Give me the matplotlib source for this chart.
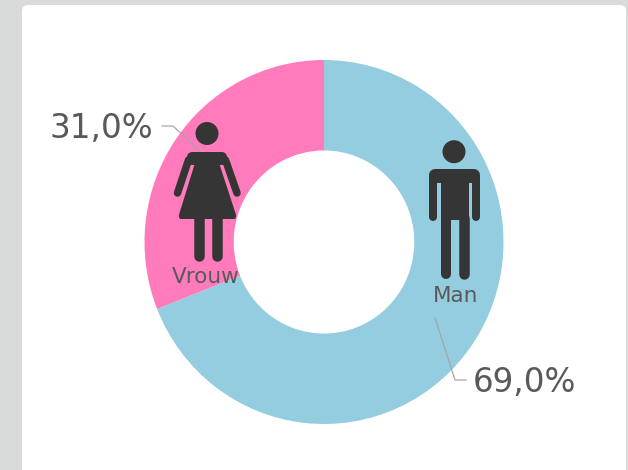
import matplotlib
matplotlib.use("Agg")
import matplotlib.pyplot as plt
from matplotlib.patches import Circle, FancyBboxPatch, Polygon

categories = ["Man", "Vrouw"]
shares = [69.0, 31.0]
share_labels = ["69,0%", "31,0%"]
colors = ["#94CDDF", "#FF7BBB"]

W, H = 628, 470
DARK = "#353535"
TEXT = "#595959"
LEAD = "#A6A6A6"
plt.rcParams["font.family"] = ["DejaVu Sans"]

fig = plt.figure(figsize=(W / 100, H / 100), dpi=100, facecolor="#D9DBDA")

# white card
bg = fig.add_axes([0, 0, 1, 1])
bg.set_xlim(0, W); bg.set_ylim(H, 0); bg.axis("off")
bg.add_patch(FancyBboxPatch((27, 10), 594, 500, boxstyle="round,pad=5,rounding_size=6",
                            fc="white", ec="white", lw=0))

# donut
L, R, T, B = 144.5, 503.5, 60, 424
ax = fig.add_axes([L / W, 1 - B / H, (R - L) / W, (B - T) / H])
ax.pie(shares, colors=colors, startangle=90, counterclock=False, radius=1,
       wedgeprops=dict(width=0.497, linewidth=0))
ax.set_aspect("auto")
ax.set_xlim(-1, 1); ax.set_ylim(-1, 1)
ax.patch.set_alpha(0)

# overlay in pixel coordinates for pictograms and callouts
ov = fig.add_axes([0, 0, 1, 1])
ov.set_xlim(0, W); ov.set_ylim(H, 0); ov.axis("off"); ov.patch.set_alpha(0)

def limb(pts, w):
    xs, ys = zip(*pts)
    ov.plot(xs, ys, color=DARK, lw=w * 0.72, solid_capstyle="round", solid_joinstyle="round")

def soft(pts, stroke=4):
    ov.add_patch(Polygon(pts, closed=True, fc=DARK, ec=DARK, lw=stroke * 0.72, joinstyle="round"))

# woman
ov.add_patch(Circle((207, 133.5), 11.5, fc=DARK, ec="none"))
soft([(192, 157), (222, 157), (222, 160), (192, 160)], 10)
soft([(198, 160), (216, 160), (234, 215), (234, 217), (181, 217), (181, 215)])
limb([(188.5, 160), (177.5, 193)], 7.5)
limb([(225.5, 160), (237, 193)], 7.5)
limb([(198.5, 215), (198.5, 256)], 10.5)
limb([(216.5, 215), (216.5, 256)], 10.5)

# man
ov.add_patch(Circle((454, 151.7), 11.5, fc=DARK, ec="none"))
soft([(435, 175), (474, 175), (474, 177), (435, 177)], 12)
soft([(443, 180), (467, 180), (467, 218), (443, 218)])
limb([(433, 178), (433, 217)], 8)
limb([(476, 178), (476, 217)], 8)
limb([(446, 218), (446, 274)], 10)
limb([(463.5, 218), (463.5, 274)], 10.5)

# category labels
ov.text(205.5, 283, categories[1], ha="center", va="baseline", fontsize=15.5, color=TEXT)
ov.text(456, 302.5, categories[0], ha="center", va="baseline", fontsize=15.5, color=TEXT)

# leaders and values
ov.plot([162, 173, 200], [126, 126, 151], color=LEAD, lw=0.9)
ov.plot([435, 455, 466], [318, 380, 380], color=LEAD, lw=0.9)
ov.text(101.5, 138, share_labels[1], ha="center", va="baseline", fontsize=23.5, color=TEXT)
ov.text(524.5, 392, share_labels[0], ha="center", va="baseline", fontsize=23.5, color=TEXT)

fig.savefig("out.png", dpi=100, facecolor=fig.get_facecolor())
